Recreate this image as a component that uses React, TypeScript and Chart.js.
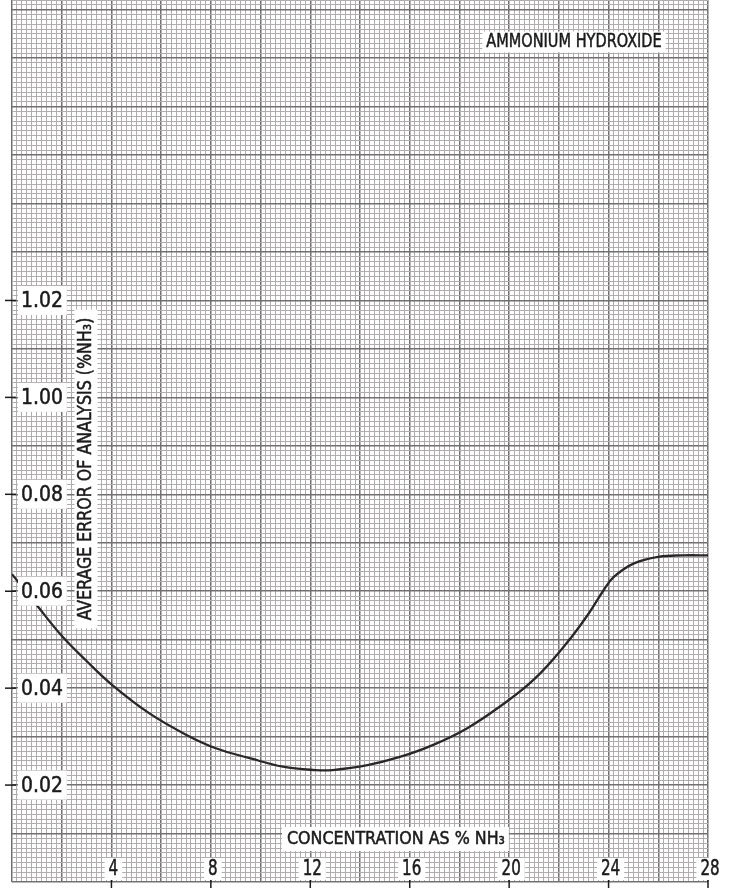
import React, { useEffect, useRef } from 'react';
import { Chart, registerables } from 'chart.js';

Chart.register(...registerables);

// ---- data ----
const concentration = [0, 1, 2, 3, 4, 5.5, 7, 8.2, 9.6, 10.9, 12.2, 12.9, 14.3, 15.6, 16.9, 18.3, 19.6, 21, 22.3, 23.2, 23.8, 24.2, 25, 26, 27, 28];
const avgError = [0.0635, 0.0571, 0.0508, 0.0456, 0.0408, 0.0349, 0.0304, 0.0276, 0.0255, 0.0238, 0.0231, 0.0231, 0.0241, 0.0258, 0.0282, 0.0317, 0.0361, 0.0418, 0.0492, 0.0554, 0.0602, 0.0629, 0.0657, 0.0671, 0.0674, 0.0674];

const xTickValues = [4, 8, 12, 16, 20, 24, 28];
const xTickLabels = ['4', '8', '12', '16', '20', '24', '28'];
const yTickValues = [0.02, 0.04, 0.06, 0.08, 0.1, 0.12];
const yTickLabels = ['0.02', '0.04', '0.06', '0.08', '1.00', '1.02'];

const chartTitle = 'AMMONIUM HYDROXIDE';
const xTitle = 'CONCENTRATION AS % NH₃';
const yTitle = 'AVERAGE ERROR OF ANALYSIS (%NH₃)';

// axis ranges / graph-paper rulings
const X_MIN = 0, X_MAX = 28, X_MINOR = 0.2, X_MAJOR_EVERY = 10;
const Y_MIN = 0, Y_MAX = 0.182, Y_MINOR = 0.001, Y_MAJOR_EVERY = 10;

// ---- styles ----
const FONT = '"DejaVu Sans Condensed", "DejaVu Sans", sans-serif';
const INK = '#1c1a1b';
const MINOR_GRID = '#b1acaf';
const MAJOR_GRID = '#737072';
const CURVE = '#2b2728';

function rulings(min: number, max: number, step: number) {
  const n = Math.round((max - min) / step);
  const out: { value: number }[] = [];
  for (let i = 0; i <= n; i++) out.push({ value: +(min + i * step).toFixed(6) });
  return out;
}

function drawBoxedText(
  ctx: CanvasRenderingContext2D,
  text: string,
  x: number,
  y: number,
  o: { size: number; sx: number; align: 'left' | 'center'; padL: number; padR: number; boxH: number; box?: boolean; dy?: number }
) {
  ctx.save();
  ctx.font = `${o.size}px ${FONT}`;
  const w = ctx.measureText(text).width * o.sx;
  const left = o.align === 'left' ? x : x - w / 2;
  if (o.box !== false) {
    ctx.fillStyle = '#ffffff';
    ctx.fillRect(left - o.padL, y - o.boxH / 2, w + o.padL + o.padR, o.boxH);
  }
  ctx.translate(left, y + (o.dy || 0));
  ctx.scale(o.sx, 1);
  ctx.fillStyle = INK;
  ctx.strokeStyle = INK;
  ctx.lineWidth = 0.5;
  ctx.textAlign = 'left';
  ctx.textBaseline = 'middle';
  ctx.fillText(text, 0, 0);
  ctx.strokeText(text, 0, 0);
  ctx.restore();
}

const paperLabels = {
  id: 'paperLabels',
  afterDatasetsDraw(chart: any) {
    const { ctx, chartArea } = chart;
    const xs = chart.scales.x;
    const ys = chart.scales.y;
    ctx.save();
    // tick marks
    ctx.strokeStyle = INK;
    ctx.lineWidth = 1.5;
    xTickValues.forEach((v) => {
      const px = xs.getPixelForValue(v);
      ctx.beginPath();
      ctx.moveTo(px, chartArea.bottom - 2);
      ctx.lineTo(px, chartArea.bottom + 6);
      ctx.stroke();
    });
    yTickValues.forEach((v) => {
      const py = ys.getPixelForValue(v);
      ctx.beginPath();
      ctx.moveTo(chartArea.left - 7, py);
      ctx.lineTo(chartArea.left + 4, py);
      ctx.stroke();
    });
    ctx.restore();

    // y tick labels
    yTickValues.forEach((v, i) => {
      const py = ys.getPixelForValue(v);
      drawBoxedText(ctx, yTickLabels[i], chartArea.left + 9, py, {
        size: 22, sx: 0.95, align: 'left', padL: 3, padR: 4, boxH: 29, dy: 1,
      });
    });
    // x tick labels
    xTickValues.forEach((v, i) => {
      const px = xs.getPixelForValue(v);
      drawBoxedText(ctx, xTickLabels[i], px + 2, chartArea.bottom - 13, {
        size: 21, sx: 0.8, align: 'center', padL: 4, padR: 4, boxH: 22, dy: 1,
      });
    });

    // titles
    drawBoxedText(ctx, chartTitle, 574, 42, { size: 19, sx: 0.85, align: 'center', padL: 4, padR: 4, boxH: 21 });
    drawBoxedText(ctx, xTitle, 287, 839, { size: 18, sx: 0.98, align: 'left', padL: 5, padR: 4, boxH: 24 });

    ctx.save();
    ctx.translate(86, 469);
    ctx.rotate(-Math.PI / 2);
    drawBoxedText(ctx, yTitle, 0, 0, { size: 20, sx: 0.88, align: 'center', padL: 8, padR: 8, boxH: 23 });
    ctx.restore();
  },
};

export default function App() {
  const ref = useRef<HTMLCanvasElement>(null);

  useEffect(() => {
    if (!ref.current) return;
    const isMajorX = (v: number) => Math.round(v / X_MINOR) % X_MAJOR_EVERY === 0;
    const isMajorY = (v: number) => Math.round(v / Y_MINOR) % Y_MAJOR_EVERY === 0;

    const chart = new Chart(ref.current, {
      type: 'line',
      data: {
        datasets: [
          {
            label: 'Average error',
            data: concentration.map((c, i) => ({ x: c, y: avgError[i] })),
            borderColor: CURVE,
            borderWidth: 2.3,
            pointRadius: 0,
            fill: false,
            tension: 0.4,
          },
        ],
      },
      options: {
        animation: false,
        responsive: false,
        devicePixelRatio: 1,
        layout: { padding: { left: 12, right: 25, top: 0, bottom: 6 } },
        plugins: { legend: { display: false }, tooltip: { enabled: false }, title: { display: false } },
        scales: {
          x: {
            type: 'linear',
            min: X_MIN,
            max: X_MAX,
            afterBuildTicks: (s: any) => { s.ticks = rulings(X_MIN, X_MAX, X_MINOR); },
            ticks: { display: false, autoSkip: false },
            border: { display: false },
            grid: {
              drawTicks: false,
              color: (c: any) => (isMajorX(c.tick.value) ? MAJOR_GRID : MINOR_GRID),
              lineWidth: (c: any) => (isMajorX(c.tick.value) ? 1.5 : 1),
            },
          },
          y: {
            type: 'linear',
            min: Y_MIN,
            max: Y_MAX,
            afterBuildTicks: (s: any) => { s.ticks = rulings(Y_MIN, Y_MAX, Y_MINOR); },
            ticks: { display: false, autoSkip: false },
            border: { display: false },
            grid: {
              drawTicks: false,
              color: (c: any) => (isMajorY(c.tick.value) ? MAJOR_GRID : MINOR_GRID),
              lineWidth: (c: any) => (isMajorY(c.tick.value) ? 1.5 : 1),
            },
          },
        },
      },
      plugins: [paperLabels],
    } as any);

    return () => chart.destroy();
  }, []);

  return (
    <div style={{ position: 'absolute', left: 0, top: 0, width: 733, height: 888, background: '#ffffff' }}>
      <canvas ref={ref} width={733} height={888} style={{ display: 'block', width: 733, height: 888 }} />
    </div>
  );
}
